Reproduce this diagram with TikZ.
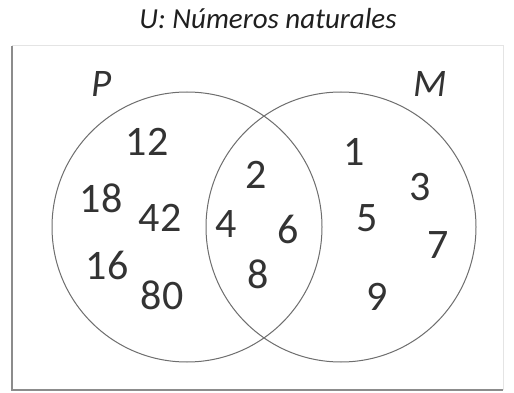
\documentclass[tikz,border=0pt]{standalone}
\usepackage{fontspec}
\setmainfont{Carlito}
\usepackage{tikz}
\definecolor{ink}{HTML}{333333}
\definecolor{rim}{HTML}{6E6E6E}
\definecolor{frameline}{HTML}{8C8C8C}
\definecolor{haze}{HTML}{E4E4E4}
\tikzset{setring/.style={draw=rim,line width=1pt}, num/.style={font=\fontsize{42}{50}\selectfont,text=ink,inner sep=0pt}, setname/.style={font=\fontsize{39}{46}\selectfont\itshape,text=ink,inner sep=0pt,anchor=base}, heading/.style={font=\fontsize{29}{34}\selectfont\itshape,text=black!88,inner sep=0pt,anchor=base}}

\begin{document}
\begin{tikzpicture}[x=1pt,y=-1pt]
\useasboundingbox (0,0) rectangle (514,393);
\fill[white] (0,0) rectangle (514,393);
\node[heading] (title) at (268,29) {U: Números naturales};
% marco del universo
\draw[haze,line width=1pt] (12,46) -- (503,46) -- (503,390);
\draw[frameline,line width=1.6pt] (12,46) -- (12,390) -- (503,390);
% conjuntos
\coordinate (cP) at (187,227);
\coordinate (cM) at (341,227);
\draw[setring] (cP) circle (135pt);
\draw[setring] (cM) circle (135pt);
\node[setname] (labP) at (102,97) {P};
\node[setname] (labM) at (430,97) {M};
% solo P
\node[num] (n12) at (147,142) {12};
\node[num] (n18) at (101,198) {18};
\node[num] (n42) at (160,218) {42};
\node[num] (n16) at (107,265) {16};
\node[num] (n80) at (162,295) {80};
% P y M
\node[num] (n2) at (256,175) {2};
\node[num] (n4) at (226,224) {4};
\node[num] (n6) at (288,229) {6};
\node[num] (n8) at (258,274) {8};
% solo M
\node[num] (n1) at (354,152) {1};
\node[num] (n3) at (420,187) {3};
\node[num] (n5) at (367,218) {5};
\node[num] (n7) at (438,245) {7};
\node[num] (n9) at (377,297) {9};
\end{tikzpicture}
\end{document}
